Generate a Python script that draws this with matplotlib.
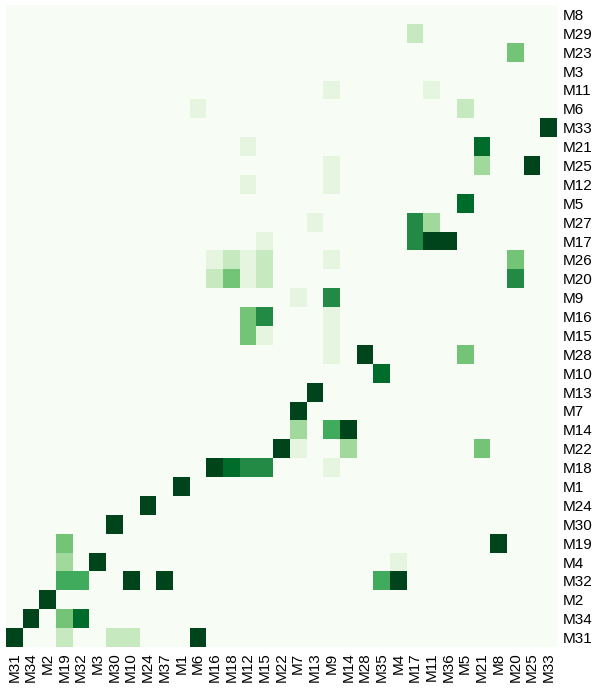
import numpy as np
import matplotlib
matplotlib.use("Agg")
import matplotlib.pyplot as plt

plt.rcParams['font.family'] = ['Liberation Sans', 'DejaVu Sans']

row_labels = ["M8", "M29", "M23", "M3", "M11", "M6", "M33", "M21", "M25", "M12", "M5",
              "M27", "M17", "M26", "M20", "M9", "M16", "M15", "M28", "M10", "M13", "M7",
              "M14", "M22", "M18", "M1", "M24", "M30", "M19", "M4", "M32", "M2", "M34", "M31"]
col_labels = ["M31", "M34", "M2", "M19", "M32", "M3", "M30", "M10", "M24", "M37", "M1",
              "M6", "M16", "M18", "M12", "M15", "M22", "M7", "M13", "M9", "M14", "M28",
              "M35", "M4", "M17", "M11", "M36", "M5", "M21", "M8", "M20", "M25", "M33"]

cell_rows = ["M29", "M23", "M11", "M11", "M6", "M6", "M33", "M21", "M21",
             "M25", "M25", "M25", "M12", "M12", "M5",
             "M27", "M27", "M27", "M17", "M17", "M17", "M17",
             "M26", "M26", "M26", "M26", "M26", "M26",
             "M20", "M20", "M20", "M20", "M20",
             "M9", "M9", "M16", "M16", "M16", "M15", "M15", "M15",
             "M28", "M28", "M28", "M10", "M13", "M7",
             "M14", "M14", "M14", "M22", "M22", "M22", "M22",
             "M18", "M18", "M18", "M18", "M18",
             "M1", "M24", "M30", "M19", "M19", "M4", "M4", "M4",
             "M32", "M32", "M32", "M32", "M32", "M32",
             "M2", "M34", "M34", "M34",
             "M31", "M31", "M31", "M31", "M31"]
cell_cols = ["M17", "M20", "M9", "M11", "M6", "M5", "M33", "M12", "M21",
             "M9", "M21", "M25", "M12", "M9", "M5",
             "M13", "M17", "M11", "M15", "M17", "M11", "M36",
             "M16", "M18", "M12", "M15", "M9", "M20",
             "M16", "M18", "M12", "M15", "M20",
             "M7", "M9", "M12", "M15", "M9", "M12", "M15", "M9",
             "M9", "M28", "M5", "M35", "M13", "M7",
             "M7", "M9", "M14", "M22", "M7", "M14", "M21",
             "M16", "M18", "M12", "M15", "M9",
             "M1", "M24", "M30", "M19", "M8", "M19", "M3", "M4",
             "M19", "M32", "M10", "M37", "M35", "M4",
             "M2", "M34", "M19", "M32",
             "M31", "M19", "M30", "M10", "M6"]
cell_values = [0.25, 0.5, 0.125, 0.125, 0.125, 0.25, 1.0, 0.125, 0.875,
               0.125, 0.375, 1.0, 0.125, 0.125, 0.875,
               0.125, 0.75, 0.375, 0.125, 0.75, 1.0, 1.0,
               0.125, 0.25, 0.125, 0.25, 0.125, 0.5,
               0.25, 0.5, 0.125, 0.25, 0.75,
               0.125, 0.75, 0.5, 0.75, 0.125, 0.5, 0.125, 0.125,
               0.125, 1.0, 0.5, 0.875, 1.0, 1.0,
               0.375, 0.625, 1.0, 1.0, 0.125, 0.375, 0.5,
               1.0, 0.875, 0.75, 0.75, 0.125,
               1.0, 1.0, 1.0, 0.5, 1.0, 0.375, 1.0, 0.125,
               0.625, 0.625, 1.0, 1.0, 0.625, 1.0,
               1.0, 1.0, 0.5, 0.875,
               1.0, 0.25, 0.25, 0.25, 1.0]

matrix = np.zeros((len(row_labels), len(col_labels)))
for r, c, v in zip(cell_rows, cell_cols, cell_values):
    matrix[row_labels.index(r), col_labels.index(c)] = v

W, H = 597, 690
fig = plt.figure(figsize=(W / 100, H / 100), dpi=100)
ax = fig.add_axes([6 / W, (H - 647) / H, (557 - 6) / W, (647 - 5) / H])
ax.pcolormesh(matrix, cmap="Greens", vmin=0, vmax=1)
ax.set_xlim(0, len(col_labels))
ax.set_ylim(len(row_labels), 0)
ax.set_xticks(np.arange(len(col_labels)) + 0.5)
ax.set_xticklabels(col_labels, rotation=90, fontsize=11)
ax.set_yticks(np.arange(len(row_labels)) + 0.5)
ax.set_yticklabels(row_labels, fontsize=11)
ax.yaxis.tick_right()
ax.tick_params(length=0, pad=4)
for s in ax.spines.values():
    s.set_visible(False)

fig.savefig("out.png", dpi=100)
